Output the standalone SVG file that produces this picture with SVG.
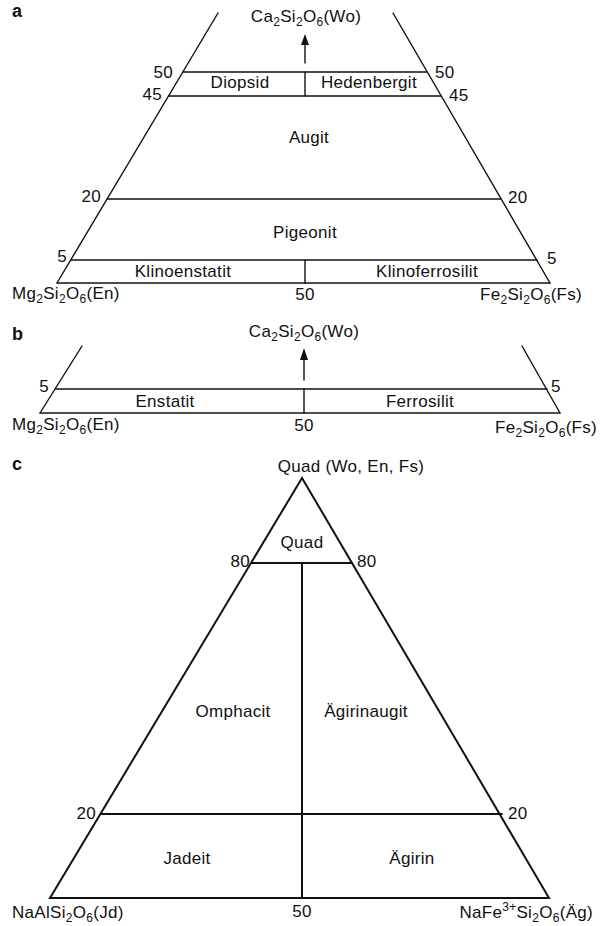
<svg xmlns="http://www.w3.org/2000/svg" width="601" height="926" viewBox="0 0 601 926">
<style>
text{font-family:"Liberation Sans",Arial,sans-serif;font-size:17px;fill:#111;letter-spacing:0.3px}
.m{text-anchor:middle}
.e{text-anchor:end}
.lbl{font-weight:bold;font-size:18px;letter-spacing:0}
.ln{stroke:#111;stroke-width:1.4;fill:none;stroke-linecap:round}
.lc{stroke:#111;stroke-width:2;fill:none;stroke-linejoin:miter}
.s{font-size:12px}
</style>
<defs>
<marker id="ah" markerWidth="8" markerHeight="10" refX="4" refY="1" orient="auto" markerUnits="userSpaceOnUse" viewBox="0 0 8 10">
<path d="M0,0 L8,0 L4,10 Z" fill="#111" transform="rotate(180 4 5)"/>
</marker>
</defs>

<g id="panel-a">
<text class="lbl" x="12" y="17">a</text>
<g id="a-lines" class="ln">
<line x1="218" y1="13" x2="57" y2="283"/>
<line x1="393" y1="13" x2="550" y2="283"/>
<line x1="183" y1="72" x2="427" y2="72"/>
<line x1="168.5" y1="96" x2="441" y2="96"/>
<line x1="107" y1="199" x2="501" y2="199"/>
<line x1="71" y1="260" x2="537" y2="260"/>
<line x1="57" y1="283" x2="550" y2="283"/>
<line x1="305" y1="72" x2="305" y2="96"/>
<line x1="305" y1="260" x2="305" y2="283"/>
</g>
<g id="a-arrow">
<line class="ln" x1="305" y1="63" x2="305" y2="42"/>
<path d="M301,45 L305,34 L309,45 Z" fill="#111"/>
</g>
<text class="m" x="306" y="22">Ca<tspan class="s" dy="4">2</tspan><tspan dy="-4">Si</tspan><tspan class="s" dy="4">2</tspan><tspan dy="-4">O</tspan><tspan class="s" dy="4">6</tspan><tspan dy="-4">(Wo)</tspan></text>
<text class="e" x="173" y="78">50</text>
<text class="e" x="162" y="100">45</text>
<text x="435" y="78">50</text>
<text x="449" y="101">45</text>
<text class="m" x="240" y="88">Diopsid</text>
<text class="m" x="369" y="88">Hedenbergit</text>
<text class="m" x="309" y="143">Augit</text>
<text class="e" x="101" y="202">20</text>
<text x="508" y="203">20</text>
<text class="m" x="305" y="238">Pigeonit</text>
<text class="e" x="67" y="262">5</text>
<text x="547" y="264">5</text>
<text class="m" x="183" y="277">Klinoenstatit</text>
<text class="m" x="427" y="277">Klinoferrosilit</text>
<text x="12" y="299">Mg<tspan class="s" dy="4">2</tspan><tspan dy="-4">Si</tspan><tspan class="s" dy="4">2</tspan><tspan dy="-4">O</tspan><tspan class="s" dy="4">6</tspan><tspan dy="-4">(En)</tspan></text>
<text class="m" x="305" y="300">50</text>
<text x="480" y="300">Fe<tspan class="s" dy="4">2</tspan><tspan dy="-4">Si</tspan><tspan class="s" dy="4">2</tspan><tspan dy="-4">O</tspan><tspan class="s" dy="4">6</tspan><tspan dy="-4">(Fs)</tspan></text>
</g>

<g id="panel-b">
<text class="lbl" x="12" y="340">b</text>
<g id="b-lines" class="ln">
<line x1="82" y1="346" x2="40" y2="413"/>
<line x1="522" y1="346" x2="560" y2="413"/>
<line x1="55.5" y1="389" x2="547" y2="389"/>
<line x1="40" y1="413" x2="560" y2="413"/>
<line x1="304" y1="389" x2="304" y2="413"/>
</g>
<g id="b-arrow">
<line class="ln" x1="304" y1="380" x2="304" y2="358"/>
<path d="M300,360 L304,348 L308,360 Z" fill="#111"/>
</g>
<text class="m" x="304" y="337">Ca<tspan class="s" dy="4">2</tspan><tspan dy="-4">Si</tspan><tspan class="s" dy="4">2</tspan><tspan dy="-4">O</tspan><tspan class="s" dy="4">6</tspan><tspan dy="-4">(Wo)</tspan></text>
<text class="e" x="49" y="392">5</text>
<text x="551" y="392">5</text>
<text class="m" x="165" y="407">Enstatit</text>
<text class="m" x="420" y="407">Ferrosilit</text>
<text x="12" y="430">Mg<tspan class="s" dy="4">2</tspan><tspan dy="-4">Si</tspan><tspan class="s" dy="4">2</tspan><tspan dy="-4">O</tspan><tspan class="s" dy="4">6</tspan><tspan dy="-4">(En)</tspan></text>
<text class="m" x="304" y="431">50</text>
<text x="495" y="433">Fe<tspan class="s" dy="4">2</tspan><tspan dy="-4">Si</tspan><tspan class="s" dy="4">2</tspan><tspan dy="-4">O</tspan><tspan class="s" dy="4">6</tspan><tspan dy="-4">(Fs)</tspan></text>
</g>

<g id="panel-c">
<text class="lbl" x="12" y="470">c</text>
<g id="c-lines" class="lc">
<path d="M302,478 L50,898 L549,898 Z"/>
<line x1="251" y1="563" x2="353" y2="563"/>
<line x1="100.5" y1="814" x2="502.5" y2="814"/>
<line x1="302" y1="563" x2="302" y2="898"/>
</g>
<text class="m" x="351" y="472">Quad (Wo, En, Fs)</text>
<text class="m" x="302" y="548">Quad</text>
<text class="e" x="250" y="567">80</text>
<text x="357" y="567">80</text>
<text class="m" x="233" y="717">Omphacit</text>
<text class="m" x="366" y="717">Ägirinaugit</text>
<text class="e" x="96" y="819">20</text>
<text x="508" y="819">20</text>
<text class="m" x="187" y="864">Jadeit</text>
<text class="m" x="412" y="864">Ägirin</text>
<text x="12" y="918">NaAlSi<tspan class="s" dy="4">2</tspan><tspan dy="-4">O</tspan><tspan class="s" dy="4">6</tspan><tspan dy="-4">(Jd)</tspan></text>
<text class="m" x="302" y="917">50</text>
<text class="e" x="593" y="918">NaFe<tspan class="s" dy="-7">3+</tspan><tspan dy="7">Si</tspan><tspan class="s" dy="4">2</tspan><tspan dy="-4">O</tspan><tspan class="s" dy="4">6</tspan><tspan dy="-4">(Äg)</tspan></text>
</g>
</svg>
